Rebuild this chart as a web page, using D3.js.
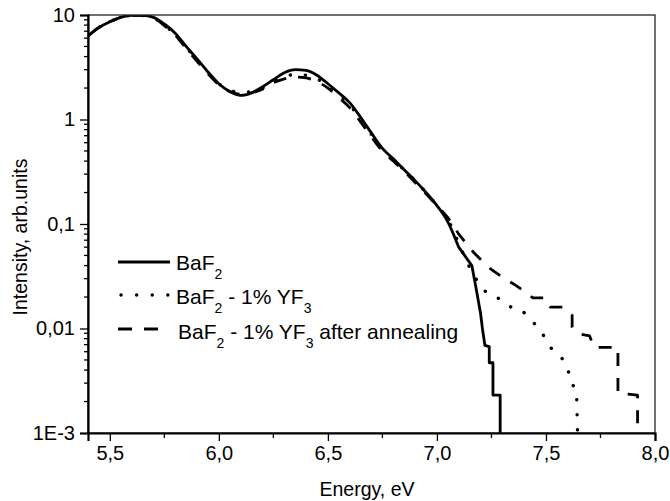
<!DOCTYPE html>
<html>
<head>
<meta charset="utf-8">
<script src="https://cdn.jsdelivr.net/npm/d3@7"></script>
<style>
  body { margin: 0; background: #fff; }
  svg { display: block; font-family: Arial, "Liberation Sans", sans-serif; }
</style>
</head>
<body>
<div id="chart"></div>
<script>
// energy grid for the main part of the spectra (eV)
const energyMain = [5.40, 5.45, 5.50, 5.55, 5.60, 5.65, 5.70, 5.75, 5.80, 5.85, 5.90, 5.95, 6.00, 6.05, 6.10,
  6.15, 6.20, 6.25, 6.30, 6.35, 6.40, 6.45, 6.50, 6.55, 6.60, 6.65, 6.70, 6.75, 6.80, 6.85, 6.90, 6.95, 7.00, 7.05];

const baf2Main = [6.3, 7.6, 8.6, 9.5, 9.9, 9.9, 9.5, 8.2, 6.7, 5.0, 3.8, 2.85, 2.2, 1.85, 1.7,
  1.8, 2.05, 2.4, 2.8, 3.0, 2.95, 2.65, 2.2, 1.8, 1.45, 1.05, 0.74, 0.53, 0.42, 0.33, 0.26, 0.2, 0.15, 0.105];
const dopedMain = [6.3, 7.6, 8.6, 9.5, 9.9, 9.9, 9.4, 8.0, 6.5, 4.9, 3.7, 2.8, 2.2, 1.9, 1.82,
  1.85, 2.0, 2.3, 2.55, 2.7, 2.65, 2.45, 2.1, 1.72, 1.38, 1.0, 0.72, 0.52, 0.41, 0.33, 0.26, 0.2, 0.15, 0.11];
const annealedMain = [6.3, 7.6, 8.6, 9.5, 9.9, 9.9, 9.4, 7.9, 6.4, 4.8, 3.6, 2.75, 2.15, 1.85, 1.75,
  1.8, 1.95, 2.25, 2.45, 2.55, 2.5, 2.3, 2.0, 1.62, 1.3, 0.95, 0.68, 0.5, 0.4, 0.32, 0.25, 0.195, 0.15, 0.115];

// high-energy tails [energy, intensity]
const baf2Tail = [[7.10, 0.06], [7.16, 0.04], [7.18, 0.024], [7.20, 0.014], [7.21, 0.0095], [7.22, 0.0069],
  [7.24, 0.0067], [7.24, 0.0047], [7.257, 0.0047], [7.257, 0.0023], [7.29, 0.0023], [7.29, 0.001]];
const dopedTail = [[7.10, 0.065], [7.14, 0.042], [7.20, 0.025], [7.24, 0.021], [7.30, 0.0188], [7.34, 0.016],
  [7.39, 0.015], [7.43, 0.012], [7.47, 0.0101], [7.50, 0.0078], [7.53, 0.0062], [7.57, 0.0053],
  [7.60, 0.0043], [7.61, 0.0031], [7.64, 0.0026], [7.645, 0.001]];
const annealedTail = [[7.10, 0.08], [7.17, 0.053], [7.24, 0.038], [7.30, 0.031], [7.36, 0.026], [7.41, 0.022],
  [7.44, 0.0196], [7.50, 0.0196], [7.52, 0.016], [7.58, 0.016], [7.62, 0.0134], [7.62, 0.0103],
  [7.66, 0.0088], [7.70, 0.0085], [7.72, 0.0066], [7.83, 0.0066], [7.83, 0.0024], [7.92, 0.0023], [7.92, 0.001]];

const xTicks = [5.5, 6.0, 6.5, 7.0, 7.5, 8.0];
const xMinorTicks = [5.75, 6.25, 6.75, 7.25, 7.75];
const yTicks = [0.001, 0.01, 0.1, 1, 10];
const yTickLabels = ['1E-3', '0,01', '0,1', '1', '10'];

const width = 670, height = 501;
const margin = { top: 15, right: 15, bottom: 68, left: 88 };

const svg = d3.select('#chart').append('svg')
  .attr('width', width)
  .attr('height', height);

const x = d3.scaleLinear().domain([5.4, 8.0]).range([margin.left, width - margin.right]);
const y = d3.scaleLog().domain([0.001, 10]).range([height - margin.bottom, margin.top]);

const toPoints = (xs, ys, tail) => xs.map((e, i) => [e, ys[i]]).concat(tail);

const series = [
  { name: 'baf2', data: toPoints(energyMain, baf2Main, baf2Tail), dash: null, cap: 'butt', w: 2.8 },
  { name: 'doped', data: toPoints(energyMain, dopedMain, dopedTail), dash: '0.1 15', cap: 'round', w: 3.4 },
  { name: 'annealed', data: toPoints(energyMain, annealedMain, annealedTail), dash: '13 12', cap: 'butt', w: 2.8 }
];

const line = d3.line()
  .x(d => x(d[0]))
  .y(d => y(d[1]))
  .curve(d3.curveMonotoneX);

const lineTail = d3.line()
  .x(d => x(d[0]))
  .y(d => y(d[1]));

svg.append('defs').append('clipPath').attr('id', 'clip')
  .append('rect')
  .attr('x', margin.left).attr('y', margin.top)
  .attr('width', width - margin.right - margin.left)
  .attr('height', height - margin.bottom - margin.top);

const plot = svg.append('g').attr('clip-path', 'url(#clip)');

series.forEach(s => {
  // smooth main part, straight segments for the stepped tail
  const mainPts = s.data.filter(d => d[0] <= 7.10);
  const tailPts = s.data.filter(d => d[0] >= 7.10);
  const path = line(mainPts) + lineTail(tailPts).replace(/^M/, 'L');
  plot.append('path')
    .attr('d', path)
    .attr('fill', 'none')
    .attr('stroke', '#000')
    .attr('stroke-width', s.w)
    .attr('stroke-linecap', s.cap)
    .attr('stroke-linejoin', 'round')
    .attr('stroke-dasharray', s.dash);
});

// frame top and right
svg.append('rect')
  .attr('x', margin.left).attr('y', margin.top)
  .attr('width', width - margin.right - margin.left)
  .attr('height', height - margin.bottom - margin.top)
  .attr('fill', 'none')
  .attr('stroke', '#222')
  .attr('stroke-width', 1.3);

// x axis
const xAxis = svg.append('g')
  .attr('transform', `translate(0,${height - margin.bottom})`)
  .call(d3.axisBottom(x).tickValues(xTicks).tickSize(8).tickPadding(5)
    .tickFormat(d => d3.format('.1f')(d).replace('.', ',')));
xAxis.append('g')
  .selectAll('line')
  .data(xMinorTicks)
  .enter().append('line')
  .attr('x1', d => x(d)).attr('x2', d => x(d))
  .attr('y1', 0).attr('y2', 5)
  .attr('stroke', '#000').attr('stroke-width', 1.3);

// y axis with minor ticks
const yMinor = [];
for (let p = -3; p < 1; p++) {
  for (let k = 2; k <= 9; k++) yMinor.push(k * Math.pow(10, p));
}
const yAxis = svg.append('g')
  .attr('transform', `translate(${margin.left},0)`)
  .call(d3.axisLeft(y).tickValues(yTicks).tickSize(8).tickPadding(5)
    .tickFormat((d, i) => yTickLabels[i]));
yAxis.append('g')
  .selectAll('line')
  .data(yMinor)
  .enter().append('line')
  .attr('y1', d => y(d)).attr('y2', d => y(d))
  .attr('x1', 0).attr('x2', -4)
  .attr('stroke', '#000').attr('stroke-width', 1.3);

[xAxis, yAxis].forEach(a => {
  a.select('.domain').attr('stroke', '#000').attr('stroke-width', 2.2);
  a.selectAll('.tick line').attr('stroke', '#000').attr('stroke-width', 1.3);
  a.selectAll('.tick text').attr('font-size', 20).attr('fill', '#000')
    .attr('font-family', 'Arial, "Liberation Sans", sans-serif');
});

// axis titles
svg.append('text')
  .attr('x', 367)
  .attr('y', 496)
  .attr('text-anchor', 'middle')
  .attr('font-size', 19.5)
  .text('Energy, eV');

svg.append('text')
  .attr('transform', 'translate(27,237) rotate(-90)')
  .attr('text-anchor', 'middle')
  .attr('font-size', 19.5)
  .text('Intensity, arb.units');

// legend
const legendRows = [
  { y: 262, base: 270, dash: null, cap: 'butt', w: 2.8, parts: [['BaF', false], ['2', true]] },
  { y: 295, base: 304, dash: '0.1 15.5', cap: 'round', w: 3.4, parts: [['BaF', false], ['2', true], [' - 1% YF', false], ['3', true]] },
  { y: 329, base: 339, dash: '14 12', cap: 'butt', w: 2.8, parts: [['BaF', false], ['2', true], [' - 1% YF', false], ['3', true], [' after annealing', false]] }
];

const legend = svg.append('g');
legendRows.forEach((r, i) => {
  legend.append('line')
    .attr('x1', i === 1 ? 121 : 118).attr('x2', i === 1 ? 168 : 170)
    .attr('y1', r.y).attr('y2', r.y)
    .attr('stroke', '#000')
    .attr('stroke-width', r.w)
    .attr('stroke-linecap', r.cap)
    .attr('stroke-dasharray', r.dash);
  const t = legend.append('text')
    .attr('x', i === 2 ? 178 : 176)
    .attr('y', r.base)
    .attr('font-size', 21);
  r.parts.forEach((p, j) => {
    const ts = t.append('tspan').text(p[0]);
    if (p[1]) ts.attr('font-size', 14).attr('dy', 9);
    else if (j > 0 && r.parts[j - 1][1]) ts.attr('dy', -9);
  });
});
</script>
</body>
</html>
